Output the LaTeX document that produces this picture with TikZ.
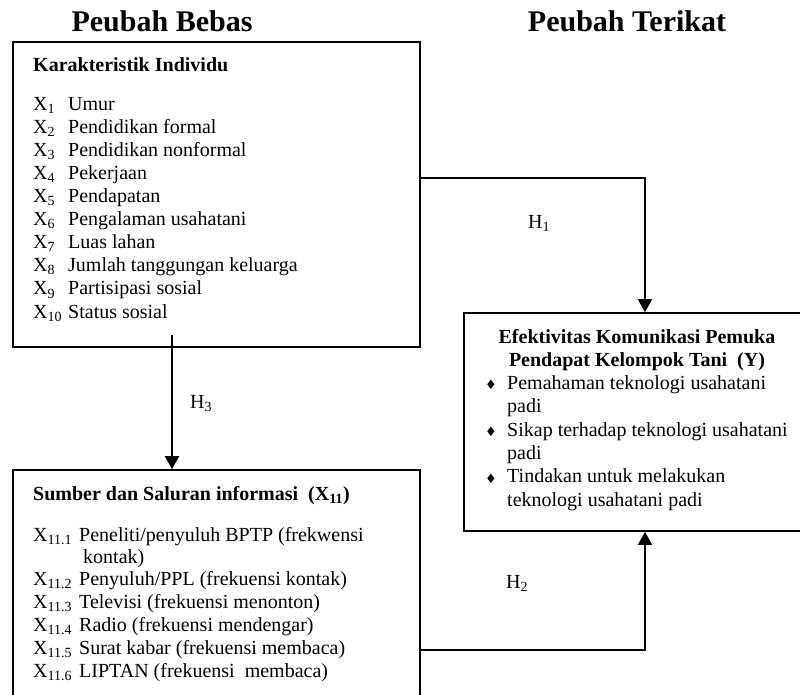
\documentclass[tikz,border=0pt]{standalone}
\usepackage{fontspec}
\setmainfont{Liberation Serif}
\newfontfamily\symfont{DejaVu Sans}
\usetikzlibrary{arrows.meta}

\tikzset{
  box/.style={draw, line width=1.6pt, inner sep=0pt},
  arr/.style={line width=1.6pt, -{Triangle[width=14pt,length=13pt]}},
  txt/.style={font=\fontsize{20}{23}\selectfont, inner sep=0pt, anchor=base west},
  bold/.style={font=\bfseries\fontsize{20}{23}\selectfont},
  head/.style={font=\bfseries\fontsize{30}{34}\selectfont, inner sep=0pt, anchor=base},
  bul/.style={font=\symfont\fontsize{13}{15}\selectfont, inner sep=0pt, anchor=base west}
}

\begin{document}
\begin{tikzpicture}[x=1pt, y=-1pt]
\useasboundingbox (0,0) rectangle (800,695);
\clip (0,0) rectangle (800,695);

% judul
\node[head] (bebas) at (162,32) {Peubah Bebas};
\node[head] (terikat) at (627,32) {Peubah Terikat};

% kotak
\node[box, minimum width=407, minimum height=305] (indiv) at (216.5,194.5) {};
\node[box, minimum width=407, minimum height=360] (sumber) at (216.5,650) {};
\node[box, minimum width=362, minimum height=218] (efek) at (645,422) {};

% karakteristik individu
\node[txt, bold] (kar) at (33,72) {Karakteristik Individu};
\foreach \t [count=\n] in {Umur, Pendidikan formal, Pendidikan nonformal, Pekerjaan,
    Pendapatan, Pengalaman usahatani, Luas lahan, Jumlah tanggungan keluarga,
    Partisipasi sosial, Status sosial} {
  \node[txt] (xl\n) at (33,{87+23.1*\n}) {X\textsubscript{\n}};
  \node[txt] (xt\n) at (68,{87+23.1*\n}) {\t};
}

% sumber dan saluran informasi
\node[txt, bold] (sb) at (33,500) {Sumber dan Saluran informasi\ \ (X\textsubscript{11})};
\foreach \i/\y/\t in {1/541/{Peneliti/penyuluh BPTP (frekwensi}, 2/585/{Penyuluh/PPL (frekuensi kontak)},
    3/608/{Televisi (frekuensi menonton)}, 4/631/{Radio (frekuensi mendengar)},
    5/654/{Surat kabar (frekuensi membaca)}, 6/677/{LIPTAN (frekuensi\ \ membaca)}} {
  \node[txt] (sl\i) at (33,\y) {X\textsubscript{11.\i}};
  \node[txt] (st\i) at (79,\y) {\t};
}
\node[txt] (st1b) at (83,563) {kontak)};

% efektivitas komunikasi
\node[txt, bold, anchor=base] (ef1) at (637,343) {Efektivitas Komunikasi Pemuka};
\node[txt, bold, anchor=base] (ef2) at (637,366) {Pendapat Kelompok Tani\ \ (Y)};
\node[bul] (b1) at (485,389) {♦};
\node[bul] (b2) at (485,436) {♦};
\node[bul] (b3) at (485,483) {♦};
\node[txt] (y1) at (507,389.6) {Pemahaman teknologi usahatani};
\node[txt] (y1b) at (507,412.9) {padi};
\node[txt] (y2) at (507,436.2) {Sikap terhadap teknologi usahatani};
\node[txt] (y2b) at (507,459.5) {padi};
\node[txt] (y3) at (507,482.8) {Tindakan untuk melakukan};
\node[txt] (y3b) at (507,506.1) {teknologi usahatani padi};

% hubungan
\draw[arr] ([yshift=16.5pt]indiv.east) -| (efek.north);
\draw[arr] (sumber.east) -| (efek.south);
\coordinate (h3a) at (172,335);
\draw[arr] (h3a) -- (h3a |- sumber.north);

\node[txt] (h1) at (528,228) {H\textsubscript{1}};
\node[txt] (h2) at (506,588) {H\textsubscript{2}};
\node[txt] (h3) at (190,408) {H\textsubscript{3}};
\end{tikzpicture}
\end{document}
